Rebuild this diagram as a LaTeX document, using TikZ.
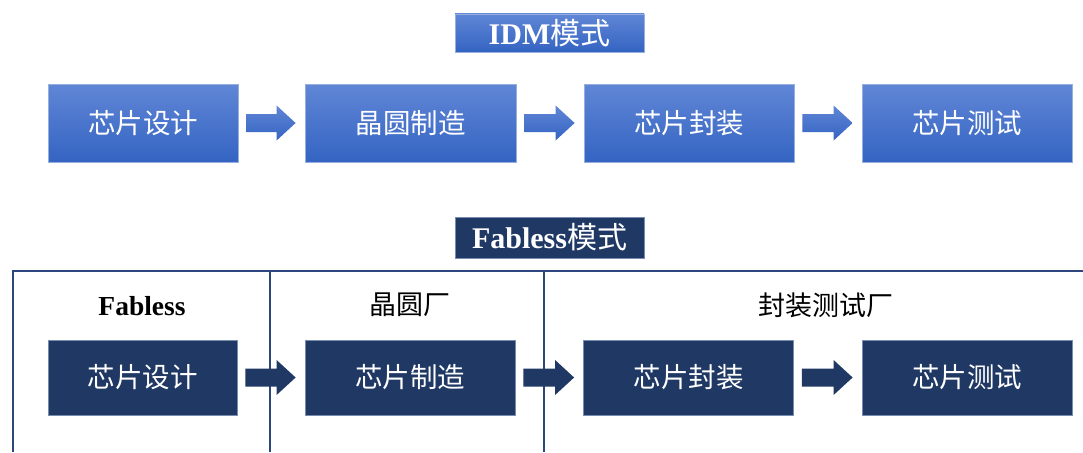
\documentclass[tikz,border=0pt]{standalone}
\usepackage{fontspec}
\setmainfont{Liberation Serif}
\newfontfamily\cjk{Noto Sans CJK SC}
\usetikzlibrary{calc}
\definecolor{bluetop}{RGB}{96,134,214}
\definecolor{bluebot}{RGB}{52,100,194}
\definecolor{blueedge}{RGB}{150,175,222}
\definecolor{navy}{RGB}{32,56,100}
\definecolor{navyedge}{RGB}{120,140,175}
\definecolor{frameline}{RGB}{45,70,125}
\tikzset{
  idmbox/.style={rectangle, inner sep=0pt, minimum height=78pt, top color=bluetop, bottom color=bluebot, draw=blueedge, line width=0.8pt, text=white, font=\cjk\fontsize{27.5}{30}\selectfont},
  fabbox/.style={rectangle, inner sep=0pt, minimum height=75pt, fill=navy, draw=navyedge, line width=0.8pt, text=white, font=\cjk\fontsize{27.5}{30}\selectfont},
  idmtitle/.style={rectangle, inner sep=0pt, minimum width=189pt, minimum height=38pt, top color=bluetop, bottom color=bluebot, draw=blueedge, line width=0.8pt, text=white},
  fabtitle/.style={rectangle, inner sep=0pt, minimum width=189pt, minimum height=41pt, fill=navy, draw=navyedge, line width=0.8pt, text=white},
  sectlabel/.style={inner sep=0pt, text=black, font=\cjk\fontsize{27}{30}\selectfont},
  frame/.style={draw=frameline, line width=1.4pt},
  idmarrow/.style={top color=bluetop, bottom color=bluebot},
  fabarrow/.style={fill=navy}
}
\newcommand{\blockarrow}[3]{%
  \path[#3] ($(#1.east)+(8,9)$) -- ($(#2.west)+(-28,9)$) -- ($(#2.west)+(-28,17.5)$) -- ($(#2.west)+(-9,0)$) -- ($(#2.west)+(-28,-17.5)$) -- ($(#2.west)+(-28,-9)$) -- ($(#1.east)+(8,-9)$) -- cycle;}
\begin{document}
\begin{tikzpicture}[x=1pt, y=-1pt]
\useasboundingbox (0,0) rectangle (1083,452);
% IDM title
\node[idmtitle] (idmt) at (549.5,33) {\fontsize{30}{30}\selectfont\bfseries IDM{\cjk\mdseries 模式}};
% IDM row
\node[idmbox, minimum width=190pt] (i1) at (143,123) {芯片设计};
\node[idmbox, minimum width=211pt] (i2) at (410.5,123) {晶圆制造};
\node[idmbox, minimum width=210pt] (i3) at (689,123) {芯片封装};
\node[idmbox, minimum width=210pt] (i4) at (967,123) {芯片测试};
\blockarrow{i1}{i2}{idmarrow}
\blockarrow{i2}{i3}{idmarrow}
\blockarrow{i3}{i4}{idmarrow}
% Fabless title
\node[fabtitle] (fabt) at (549.5,237.5) {\fontsize{30}{30}\selectfont\bfseries Fabless{\cjk\mdseries 模式}};
% frame
\coordinate (fl) at (13,452);
\coordinate (ftl) at (13,271);
\coordinate (ftr) at (1083,271);
\coordinate (d1t) at (270,271);
\coordinate (d1b) at (270,452);
\coordinate (d2t) at (544,271);
\coordinate (d2b) at (544,452);
\draw[frame] (fl) -- (ftl) -- (ftr);
\draw[frame] (d1t) -- (d1b);
\draw[frame] (d2t) -- (d2b);
% section labels
\node[inner sep=0pt, font=\fontsize{27.5}{30}\selectfont\bfseries] (l1) at (142,306) {Fabless};
\node[sectlabel] (l2) at (410,305) {晶圆厂};
\node[sectlabel] (l3) at (826,305) {封装测试厂};
% Fabless row
\node[fabbox, minimum width=189pt] (f1) at (142.5,377.5) {芯片设计};
\node[fabbox, minimum width=210pt] (f2) at (410,377.5) {芯片制造};
\node[fabbox, minimum width=210pt] (f3) at (688.5,377.5) {芯片封装};
\node[fabbox, minimum width=210pt] (f4) at (967,377.5) {芯片测试};
\blockarrow{f1}{f2}{fabarrow}
\blockarrow{f2}{f3}{fabarrow}
\blockarrow{f3}{f4}{fabarrow}
\end{tikzpicture}
\end{document}
